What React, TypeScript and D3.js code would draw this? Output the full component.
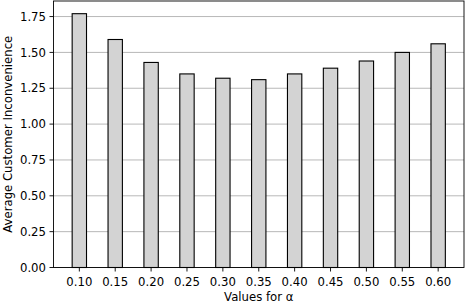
import React from "react";
import * as d3 from "d3";

const alphas = [0.1, 0.15, 0.2, 0.25, 0.3, 0.35, 0.4, 0.45, 0.5, 0.55, 0.6];
const values = [1.77, 1.59, 1.43, 1.35, 1.32, 1.31, 1.35, 1.39, 1.44, 1.5, 1.56];
const yTicks = [0, 0.25, 0.5, 0.75, 1.0, 1.25, 1.5, 1.75];

export default function App() {
  const W = 465, H = 303;
  const L = 53.5, R = 464, T = 1, B = 267.5;
  const barW = 0.02;
  const x = d3.scaleLinear().domain([0.064, 0.636]).range([L, R]);
  const ymax = d3.max(values)! * 1.05;
  const y = d3.scaleLinear().domain([0, ymax]).range([B, T]);
  const font = "DejaVu Sans, sans-serif";
  const fs = 11.7;
  return (
    <svg width={W} height={H} style={{ position: "absolute", left: 0, top: 0, background: "#fff" }}>
      {yTicks.map((t) => (
        <line key={"g" + t} x1={L} x2={R} y1={y(t)} y2={y(t)} stroke="#b0b0b0" strokeWidth={0.9} />
      ))}
      {alphas.map((a, i) => (
        <rect
          key={a}
          x={x(a - barW / 2)}
          y={y(values[i])}
          width={x(a + barW / 2) - x(a - barW / 2)}
          height={B - y(values[i])}
          fill="#d3d3d3"
          stroke="#000"
          strokeWidth={1.1}
        />
      ))}
      <rect x={L} y={T} width={R - L} height={B - T} fill="none" stroke="#000" strokeWidth={0.9} />
      {yTicks.map((t) => (
        <g key={"yt" + t}>
          <line x1={L - 4} x2={L} y1={y(t)} y2={y(t)} stroke="#000" strokeWidth={0.9} />
          <text x={L - 7.5} y={y(t)} dy="0.36em" textAnchor="end" fontFamily={font} fontSize={fs} fill="#000">
            {t.toFixed(2)}
          </text>
        </g>
      ))}
      {alphas.map((a) => (
        <g key={"xt" + a}>
          <line x1={x(a)} x2={x(a)} y1={B} y2={B + 4} stroke="#000" strokeWidth={0.9} />
          <text x={x(a)} y={B + 18.2} textAnchor="middle" fontFamily={font} fontSize={fs} fill="#000">
            {a.toFixed(2)}
          </text>
        </g>
      ))}
      <text x={(L + R) / 2} y={301} textAnchor="middle" fontFamily={font} fontSize={fs} fill="#000">
        Values for α
      </text>
      <text
        transform={`translate(11.5,${(T + B) / 2}) rotate(-90)`}
        textAnchor="middle"
        fontFamily={font}
        fontSize={fs}
        fill="#000"
      >
        Average Customer Inconvenience
      </text>
    </svg>
  );
}
